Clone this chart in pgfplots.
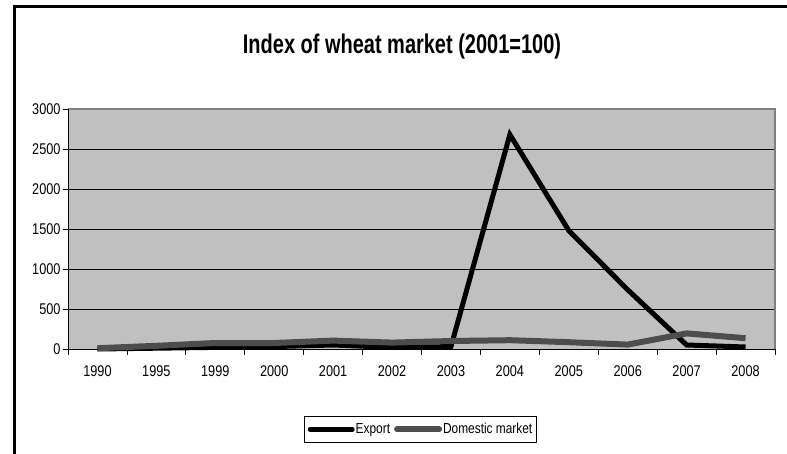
\documentclass[border=0pt]{standalone}
\usepackage{fontspec}
\setmainfont{Liberation Sans}[FakeStretch=0.82]
\newfontfamily\titlefont{Liberation Sans}[FakeStretch=0.74]
\usepackage{pgfplots}
\pgfplotsset{compat=1.18}

\definecolor{plotbg}{RGB}{192,192,192}
\definecolor{domgrey}{RGB}{77,77,77}
\definecolor{bordergrey}{RGB}{128,128,128}

\begin{document}
\begin{tikzpicture}[x=1pt,y=1pt]
\useasboundingbox (0,0) rectangle (787,453);
% outer chart frame
\draw[line width=3pt] (14.5,-10) -- (14.5,446.5) -- (800,446.5);

\begin{axis}[
  at={(68pt,104pt)}, anchor=south west,
  scale only axis, width=707pt, height=240pt,
  xmin=-0.5, xmax=11.5, ymin=0, ymax=3000,
  xtick={-0.5,0.5,...,11.5},
  x tick label as interval,
  xticklabels={1990,1995,1999,2000,2001,2002,2003,2004,2005,2006,2007,2008},
  ytick={0,500,...,3000},
  xtick pos=bottom, ytick pos=left,
  tick align=outside,
  major tick length=5.5pt,
  tick style={black, line width=0.8pt},
  ymajorgrids,
  major grid style={black, line width=0.8pt},
  axis background/.style={fill=plotbg},
  axis line style={draw=none},
  /pgf/number format/1000 sep={},
  /pgf/number format/assume math mode=true,
  tick label style={font=\fontsize{15.5}{17}\selectfont},
  xticklabel style={yshift=-8pt},
  yticklabel style={xshift=1.5pt},
  legend columns=2,
  legend style={at={(0.4986,-0.335)}, anchor=center, draw=black, line width=0.6pt,
    inner xsep=3pt, inner ysep=6pt, font=\fontsize{14.5}{16}\selectfont,
    /tikz/every even column/.append style={column sep=3pt},
    nodes={inner sep=1pt}},
  legend image code/.code={\draw[#1, line cap=round] (0pt,0pt) -- (42pt,0pt);},
  clip=false,
]
% plot area border: grey top and right, black left and bottom
\draw[bordergrey, line width=1.6pt] (rel axis cs:0,1) -- (rel axis cs:1,1) -- (rel axis cs:1,0);
\draw[black, line width=1pt] (rel axis cs:0,1) -- (rel axis cs:0,0) -- (rel axis cs:1,0);

\addplot[black, line width=5pt, line join=miter] coordinates {
  (0,0) (1,10) (2,20) (3,30) (4,50) (5,20) (6,30)
  (7,2680) (8,1480) (9,740) (10,50) (11,25)};
\addlegendentry{Export}
\addplot[domgrey, line width=6pt, line join=round] coordinates {
  (0,10) (1,40) (2,75) (3,75) (4,105) (5,80) (6,100)
  (7,110) (8,85) (9,55) (10,195) (11,135)};
\addlegendentry{Domestic market}
\end{axis}

\node[font=\titlefont\bfseries\fontsize{27}{30}\selectfont] at (402,406) {Index of wheat market (2001=100)};
\end{tikzpicture}
\end{document}
